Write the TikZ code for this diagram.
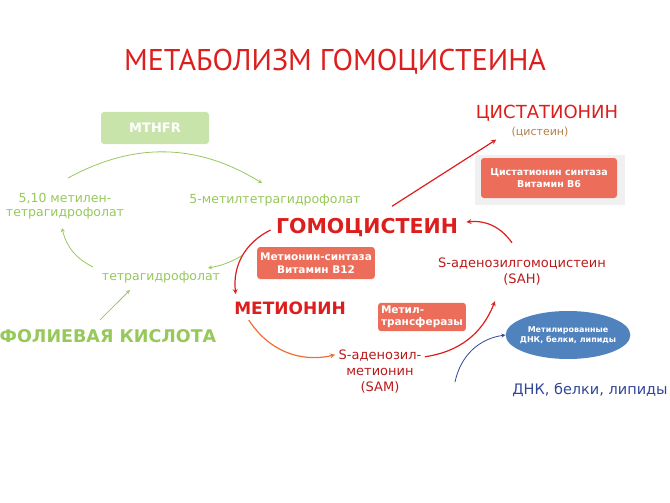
\documentclass[tikz,border=0pt]{standalone}
\usepackage{fontspec}
\setmainfont{DejaVu Sans}
\newfontfamily\titlefont{PT Sans}
\usetikzlibrary{shapes.geometric, arrows, calc, positioning}
\definecolor{leaf}{RGB}{150,200,90}
\definecolor{leafbox}{RGB}{200,228,170}
\definecolor{hred}{RGB}{220,30,30}
\definecolor{salmon}{RGB}{236,110,90}
\definecolor{orng}{RGB}{240,110,50}
\definecolor{navy}{RGB}{50,70,150}
\definecolor{skyb}{RGB}{80,130,190}
\tikzstyle{folate} = [text=leaf, font=\fontsize{12.5}{14}\selectfont, align=center]
\tikzstyle{enzyme} = [rectangle, rounded corners=3pt, fill=salmon, text=white, font=\bfseries\fontsize{10.5}{12.5}\selectfont, align=center, inner sep=3pt]
\tikzstyle{metab} = [text=hred, font=\bfseries\fontsize{17}{19}\selectfont]
\tikzstyle{sub} = [text=hred!85!black, font=\fontsize{13}{16}\selectfont, align=center]
\tikzstyle{garrow} = [thick, draw=leaf, ->, >=stealth]
\tikzstyle{rarrow} = [very thick, draw=hred, ->, >=stealth]
\begin{document}
\begin{tikzpicture}[x=1pt, y=-1pt]
		\useasboundingbox (0,0) rectangle (670,503);
		\node (Title) at (335,62) [text=hred, font=\titlefont\fontsize{30}{32}\selectfont] {МЕТАБОЛИЗМ ГОМОЦИСТЕИНА};
		\node (MTHFR) at (155,128) [rectangle, rounded corners=3pt, fill=leafbox, text=white, font=\bfseries\fontsize{13}{15}\selectfont, minimum width=108pt, minimum height=32pt] {MTHFR};
		\node (Methylene) at (65,206) [folate] {5,10 метилен-\\тетрагидрофолат};
		\node (MethylTHF) at (275,200) [folate] {5-метилтетрагидрофолат};
		\node (THF) at (161,277) [folate] {тетрагидрофолат};
		\node (Folic) at (108,336) [text=leaf, font=\bfseries\fontsize{17.5}{19}\selectfont] {ФОЛИЕВАЯ КИСЛОТА};
		\node (Homocys) at (367,227) [metab, font=\bfseries\fontsize{20.5}{22}\selectfont] {ГОМОЦИСТЕИН};
		\node (MetSynth) at (316,263) [enzyme, minimum width=114pt, minimum height=32pt] {Метионин-синтаза\\Витамин B12};
		\node (Methionine) at (290,308) [metab] {МЕТИОНИН};
		\node (MetTrans) at (422,317) [enzyme, align=left, minimum width=82pt, minimum height=28pt] {Метил-\\трансферазы};
		\node (SAM) at (380,372) [sub] {S-аденозил-\\метионин\\(SAM)};
		\node (SAH) at (522,272) [sub] {S-аденозилгомоцистеин\\(SAH)};
		\node (Cysta) at (547,113) [text=hred, font=\fontsize{18}{20}\selectfont] {ЦИСТАТИОНИН};
		\node (Cysteine) at (540,132) [text=gray!60!orange, font=\fontsize{11}{13}\selectfont] {(цистеин)};
		\node (CbsBack) at (550,180) [rectangle, fill=gray!12, minimum width=150pt, minimum height=50pt] {};
		\node (CBS) at (549,178) [enzyme, font=\bfseries\fontsize{9.5}{12}\selectfont, minimum width=136pt, minimum height=40pt] {Цистатионин синтаза\\Витамин B6};
		\node (Methylated) at (568,335) [ellipse, fill=skyb, text=white, font=\bfseries\fontsize{8}{10}\selectfont, align=center, inner sep=-4pt, minimum width=110pt, minimum height=48pt] {Метилированные\\ДНК, белки, липиды};
		\node (DNA) at (590,390) [text=navy, font=\fontsize{14.5}{16}\selectfont] {ДНК, белки, липиды};
		% free ends of the arcs
		\coordinate (CycleA) at (68,178);
		\coordinate (CycleB) at (262,183);
		\coordinate (CycleC) at (243,255);
		\coordinate (CycleD) at (208,268);
		\coordinate (CycleE) at (93,267);
		\coordinate (CycleF) at (62,228);
		\coordinate (FolicEnd) at (130,290);
		\coordinate (BlueStart) at (455,382);
		\draw [garrow] (CycleA) to[bend left=30] (CycleB);
		\draw [garrow] (CycleC) to[bend left=10] (CycleD);
		\draw [garrow] (CycleE) to[bend left=25] (CycleF);
		\draw [garrow] ($(Folic.north)+(-8,-6)$) -- (FolicEnd);
		\draw [rarrow] ($(Homocys.west)+(-2,3)$) to[bend right=35] ($(Methionine.north west)+(5,-4)$);
		\draw [very thick, draw=orng, ->, >=stealth] ($(Methionine.south west)+(18,2)$) to[bend right=35] ($(SAM.north west)+(0,8)$);
		\draw [rarrow] ($(SAM.north east)+(0,10)$) to[bend right=30] ($(SAH.south)+(-27,12)$);
		\draw [rarrow] ($(SAH.north)+(-10,-12)$) to[bend right=30] ($(Homocys.east)+(5,-5)$);
		\draw [rarrow] ($(Homocys.north)+(25,-8)$) -- ($(Cysta.south west)+(24,15)$);
		\draw [thick, draw=navy, ->, >=stealth] (BlueStart) to[bend left=35] (Methylated.west);
		\end{tikzpicture}
\end{document}
